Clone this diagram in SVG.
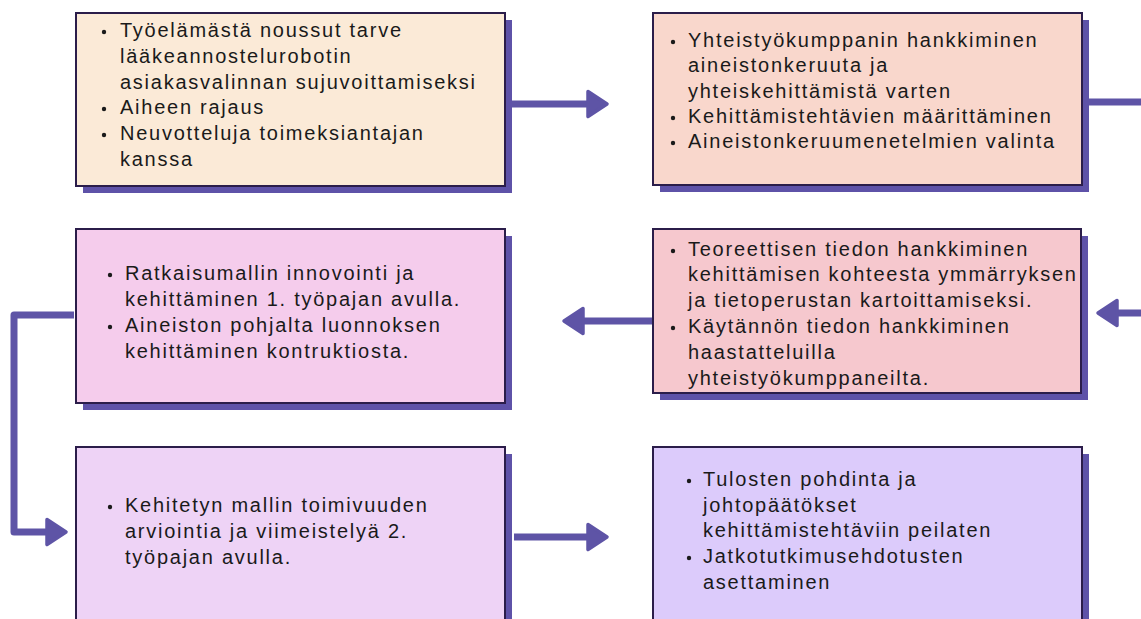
<svg xmlns="http://www.w3.org/2000/svg" width="1141" height="619" viewBox="0 0 1141 619">
  <style>
    .shadow { fill: #5e52a8; }
    .box { stroke: #2b1d4a; stroke-width: 2; }
    .txt { font-family: "Liberation Sans", Arial, sans-serif; font-size: 20px; letter-spacing: 1.75px; fill: #1a1a1a; }
    .dot { fill: #1a1a1a; }
    .conn { fill: none; stroke: #5e54a6; stroke-width: 7; stroke-linejoin: round; }
  </style>
  <defs>
    <marker id="head" markerUnits="userSpaceOnUse" markerWidth="26" markerHeight="32" viewBox="0 0 26 32" refX="12" refY="16" orient="auto">
      <path d="M3,3.5 L22,16 L3,28.5 Z" fill="#5e54a6" stroke="#5e54a6" stroke-width="3.5" stroke-linejoin="round"/>
    </marker>
  </defs>
  <rect width="1141" height="619" fill="#ffffff"/>

  <!-- connectors -->
  <g id="connectors">
    <line class="conn" x1="512" y1="104" x2="597" y2="104" marker-end="url(#head)"/>
    <line class="conn" x1="1088" y1="102" x2="1141" y2="102"/>
    <line class="conn" x1="1141" y1="313" x2="1108" y2="313" marker-end="url(#head)"/>
    <line class="conn" x1="652" y1="321" x2="574" y2="321" marker-end="url(#head)"/>
    <path class="conn" d="M74,315 H14 V532 H56" marker-end="url(#head)"/>
    <line class="conn" x1="514" y1="537" x2="597" y2="537" marker-end="url(#head)"/>
  </g>

  <!-- step 1 -->
  <g id="node-1">
    <rect class="shadow" x="83" y="20" width="429" height="173"/>
    <rect class="box" x="76" y="13" width="429" height="173" fill="#fbead7"/>
    <circle class="dot" cx="104" cy="32" r="2.2"/>
    <circle class="dot" cx="104" cy="109" r="2.2"/>
    <circle class="dot" cx="104" cy="135" r="2.2"/>
    <text class="txt" x="120" y="37">Työelämästä noussut tarve</text>
    <text class="txt" x="120" y="63">lääkeannostelurobotin</text>
    <text class="txt" x="120" y="89">asiakasvalinnan sujuvoittamiseksi</text>
    <text class="txt" x="120" y="114">Aiheen rajaus</text>
    <text class="txt" x="120" y="140">Neuvotteluja toimeksiantajan</text>
    <text class="txt" x="120" y="166">kanssa</text>
  </g>

  <!-- step 2 -->
  <g id="node-2">
    <rect class="shadow" x="660" y="20" width="429" height="172"/>
    <rect class="box" x="653" y="13" width="429" height="172" fill="#f9d7cc"/>
    <circle class="dot" cx="673" cy="42" r="2.2"/>
    <circle class="dot" cx="673" cy="118" r="2.2"/>
    <circle class="dot" cx="673" cy="143" r="2.2"/>
    <text class="txt" x="688" y="47">Yhteistyökumppanin hankkiminen</text>
    <text class="txt" x="688" y="72">aineistonkeruuta ja</text>
    <text class="txt" x="688" y="98">yhteiskehittämistä varten</text>
    <text class="txt" x="688" y="123">Kehittämistehtävien määrittäminen</text>
    <text class="txt" x="688" y="148">Aineistonkeruumenetelmien valinta</text>
  </g>

  <!-- step 3 -->
  <g id="node-3">
    <rect class="shadow" x="660" y="236" width="428" height="164"/>
    <rect class="box" x="653" y="229" width="428" height="164" fill="#f6c8ce"/>
    <circle class="dot" cx="673" cy="251" r="2.2"/>
    <circle class="dot" cx="673" cy="328" r="2.2"/>
    <text class="txt" x="688" y="256">Teoreettisen tiedon hankkiminen</text>
    <text class="txt" x="688" y="281">kehittämisen kohteesta ymmärryksen</text>
    <text class="txt" x="688" y="307">ja tietoperustan kartoittamiseksi.</text>
    <text class="txt" x="688" y="333">Käytännön tiedon hankkiminen</text>
    <text class="txt" x="688" y="359">haastatteluilla</text>
    <text class="txt" x="688" y="385">yhteistyökumppaneilta.</text>
  </g>

  <!-- step 4 -->
  <g id="node-4">
    <rect class="shadow" x="83" y="236" width="429" height="174"/>
    <rect class="box" x="76" y="229" width="429" height="174" fill="#f5ccec"/>
    <circle class="dot" cx="110" cy="275" r="2.2"/>
    <circle class="dot" cx="110" cy="327" r="2.2"/>
    <text class="txt" x="125" y="280">Ratkaisumallin innovointi ja</text>
    <text class="txt" x="125" y="306">kehittäminen 1. työpajan avulla.</text>
    <text class="txt" x="125" y="332">Aineiston pohjalta luonnoksen</text>
    <text class="txt" x="125" y="358">kehittäminen kontruktiosta.</text>
  </g>

  <!-- step 5 -->
  <g id="node-5">
    <rect class="shadow" x="83" y="454" width="429" height="180"/>
    <rect class="box" x="76" y="447" width="429" height="180" fill="#eed3f6"/>
    <circle class="dot" cx="110" cy="507" r="2.2"/>
    <text class="txt" x="125" y="512">Kehitetyn mallin toimivuuden</text>
    <text class="txt" x="125" y="538">arviointia ja viimeistelyä 2.</text>
    <text class="txt" x="125" y="564">työpajan avulla.</text>
  </g>

  <!-- step 6 -->
  <g id="node-6">
    <rect class="shadow" x="660" y="454" width="429" height="180"/>
    <rect class="box" x="653" y="447" width="429" height="180" fill="#dccbfb"/>
    <circle class="dot" cx="689" cy="481" r="2.2"/>
    <circle class="dot" cx="689" cy="558" r="2.2"/>
    <text class="txt" x="703" y="486">Tulosten pohdinta ja</text>
    <text class="txt" x="703" y="512">johtopäätökset</text>
    <text class="txt" x="703" y="537">kehittämistehtäviin peilaten</text>
    <text class="txt" x="703" y="563">Jatkotutkimusehdotusten</text>
    <text class="txt" x="703" y="589">asettaminen</text>
  </g>
</svg>
